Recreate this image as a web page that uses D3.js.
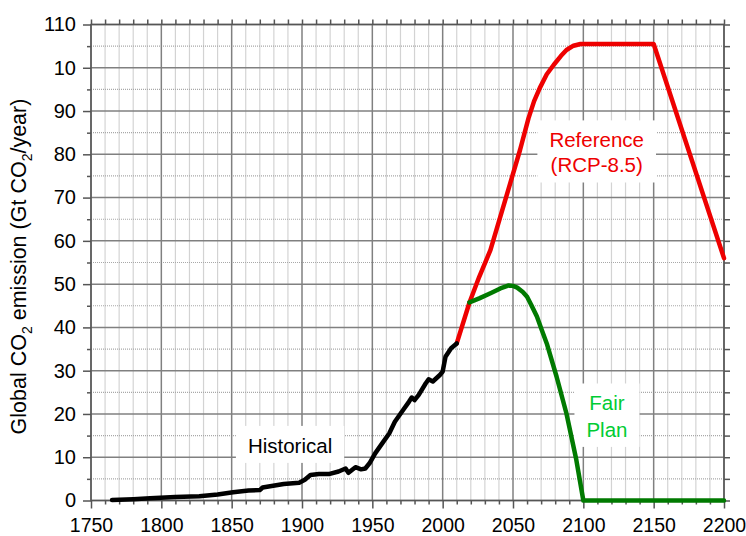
<!DOCTYPE html>
<html>
<head>
<meta charset="utf-8">
<script src="https://cdn.jsdelivr.net/npm/d3@7"></script>
<style>
  body { margin: 0; background: #fff; }
  text { font-family: "Liberation Sans", Arial, Helvetica, sans-serif; }
</style>
</head>
<body>
<div class="visualization"></div>
<script>
// historical emissions (Gt CO2/yr)
const histYears = [1765, 1780, 1792, 1810, 1827, 1840, 1851, 1862, 1870, 1872, 1887, 1898, 1902, 1906, 1912, 1919, 1926, 1931, 1933, 1938, 1942, 1945, 1948, 1952, 1957, 1962, 1966, 1971, 1976, 1978, 1980, 1983, 1988, 1990, 1993, 1998, 2000, 2002, 2006, 2010];
const histValues = [0.1, 0.3, 0.5, 0.8, 1.0, 1.4, 1.9, 2.3, 2.4, 3.0, 3.8, 4.1, 4.8, 5.9, 6.1, 6.1, 6.7, 7.4, 6.4, 7.7, 7.2, 7.4, 8.6, 10.9, 13.2, 15.5, 18.2, 20.5, 22.8, 23.8, 23.2, 24.4, 27.1, 28.0, 27.5, 29.0, 29.8, 33.2, 35.2, 36.3];

// reference scenario (RCP-8.5)
const refYears = [2010, 2019, 2026, 2034, 2041, 2048, 2055, 2061, 2065, 2069, 2074, 2079, 2084, 2088, 2093, 2098, 2150, 2200];
const refValues = [36.3, 45.7, 51.7, 57.9, 65.6, 73.3, 81.0, 88.3, 92.3, 95.3, 98.5, 100.7, 102.7, 104.1, 105.1, 105.5, 105.5, 56.0];

// fair plan
const fairYears = [2019, 2026, 2034, 2041, 2047, 2050, 2053, 2057, 2060, 2063, 2067, 2070, 2074, 2081, 2088, 2095, 2100, 2200];
const fairValues = [45.8, 46.7, 47.9, 49.0, 49.7, 49.6, 49.2, 48.2, 47.1, 45.2, 42.5, 39.8, 36.3, 28.6, 20.1, 9.4, 0, 0];

// axis ticks (the 100 label really reads "10" in the original)
const xTicks = [1750, 1800, 1850, 1900, 1950, 2000, 2050, 2100, 2150, 2200];
const yTicks = [0, 10, 20, 30, 40, 50, 60, 70, 80, 90, 100, 110];
const yTickLabels = ["0", "10", "20", "30", "40", "50", "60", "70", "80", "90", "10", "110"];

const width = 746, height = 536;
const margin = {top: 24.5, left: 91, right: 22, bottom: 35.5};

const svg = d3.select('.visualization').append('svg')
    .attr('width', width)
    .attr('height', height);

const x = d3.scaleLinear().domain([1750, 2200]).range([margin.left, width - margin.right]);
const y = d3.scaleLinear().domain([0, 110]).range([height - margin.bottom, margin.top]);

const minorX = d3.range(1750, 2201, 10).filter(d => d % 50 !== 0);
const minorY = d3.range(5, 110, 10);

// grid
const grid = svg.append('g').attr('class', 'grid');
grid.selectAll('.minor-x').data(minorX).enter().append('line')
    .attr('x1', d => x(d)).attr('x2', d => x(d))
    .attr('y1', y(0)).attr('y2', y(110))
    .style('stroke', '#a8a8a8').style('stroke-width', 1.2).style('stroke-dasharray', '1,1');
grid.selectAll('.minor-y').data(minorY).enter().append('line')
    .attr('x1', x(1750)).attr('x2', x(2200))
    .attr('y1', d => y(d)).attr('y2', d => y(d))
    .style('stroke', '#a8a8a8').style('stroke-width', 1.2).style('stroke-dasharray', '1,1');
grid.selectAll('.major-x').data(xTicks).enter().append('line')
    .attr('x1', d => x(d)).attr('x2', d => x(d))
    .attr('y1', y(0)).attr('y2', y(110))
    .style('stroke', '#808080').style('stroke-width', 1.5);
grid.selectAll('.major-y').data(yTicks).enter().append('line')
    .attr('x1', x(1750)).attr('x2', x(2200))
    .attr('y1', d => y(d)).attr('y2', d => y(d))
    .style('stroke', '#808080').style('stroke-width', 1.5);

// annotation boxes go under the lines
const notes = svg.append('g').attr('class', 'notes');

function note(lines, cx, baselines, color) {
    const g = notes.append('g');
    const texts = lines.map((t, i) => g.append('text')
        .attr('x', x(cx)).attr('y', y(baselines[i]))
        .attr('text-anchor', 'middle')
        .style('font-size', '20.5px')
        .style('fill', color)
        .text(t));
    let x0 = Infinity, y0 = Infinity, x1 = -Infinity, y1 = -Infinity;
    texts.forEach(t => {
        const b = t.node().getBBox();
        x0 = Math.min(x0, b.x); y0 = Math.min(y0, b.y);
        x1 = Math.max(x1, b.x + b.width); y1 = Math.max(y1, b.y + b.height);
    });
    g.insert('rect', 'text')
        .attr('x', x0 - 12).attr('y', y0 - 8)
        .attr('width', x1 - x0 + 24).attr('height', y1 - y0 + 14)
        .style('fill', '#fff');
}
note(['Historical'], 1891.5, [11.0], '#000');
note(['Reference', '(RCP-8.5)'], 2109.5, [81.6, 75.8], '#ee0000');
note(['Fair', 'Plan'], 2116.8, [20.8, 14.7], '#00cc33');

// axes
function styleAxis(size) {
    return g => {
        g.select('.domain').remove();
        g.selectAll('.tick line').style('stroke', '#555').style('stroke-width', 1.5);
        g.selectAll('.tick text').style('font-size', size).style('fill', '#000')
            .style('font-family', '"Liberation Sans", Arial, sans-serif');
    };
}

svg.append('g').attr('transform', `translate(0,${y(0)})`)
    .call(d3.axisBottom(x).tickValues(xTicks).tickFormat(d3.format('d')).tickSize(8).tickPadding(10))
    .call(styleAxis('19.5px'));
svg.append('g').attr('transform', `translate(0,${y(0)})`)
    .call(d3.axisBottom(x).tickValues(minorX).tickFormat('').tickSize(4))
    .call(styleAxis('19.5px'));
svg.append('g').attr('transform', `translate(${x(1750)},0)`)
    .call(d3.axisLeft(y).tickValues(yTicks).tickFormat((d, i) => yTickLabels[i]).tickSize(8).tickPadding(7))
    .call(styleAxis('20px'));
svg.append('g').attr('transform', `translate(${x(1750)},0)`)
    .call(d3.axisLeft(y).tickValues(minorY).tickFormat('').tickSize(4))
    .call(styleAxis('20px'));
svg.append('g').attr('transform', `translate(0,${y(110)})`)
    .call(d3.axisTop(x).tickValues(d3.range(1750, 2201, 10)).tickFormat('').tickSize(5))
    .call(styleAxis('20px'));
svg.append('g').attr('transform', `translate(${x(2200)},0)`)
    .call(d3.axisRight(y).tickValues(d3.range(0, 111, 5)).tickFormat('').tickSize(6))
    .call(styleAxis('20px'));

// frame
svg.append('rect')
    .attr('x', x(1750)).attr('y', y(110))
    .attr('width', x(2200) - x(1750)).attr('height', y(0) - y(110))
    .style('fill', 'none').style('stroke', '#555').style('stroke-width', 1.5);

// y title with subscripts
const title = svg.append('text')
    .attr('transform', `translate(26,${(y(0) + y(110)) / 2 + 4}) rotate(-90)`)
    .attr('text-anchor', 'middle')
    .style('font-size', '21.5px');
title.append('tspan').text('Global CO');
title.append('tspan').text('2').style('font-size', '14px').attr('dy', 6);
title.append('tspan').text(' emission (Gt CO').attr('dy', -6);
title.append('tspan').text('2').style('font-size', '14px').attr('dy', 6);
title.append('tspan').text('/year)').attr('dy', -6);

// series
const line = d3.line().x(d => x(d[0])).y(d => y(d[1]));
const series = [
    {years: refYears, values: refValues, color: '#ee0000'},
    {years: fairYears, values: fairValues, color: '#007a00'},
    {years: histYears, values: histValues, color: '#000'}
];
svg.append('g').attr('class', 'lines')
    .selectAll('path')
    .data(series)
    .enter().append('path')
    .attr('d', s => line(d3.zip(s.years, s.values)))
    .style('fill', 'none')
    .style('stroke', s => s.color)
    .style('stroke-width', 4.5)
    .style('stroke-linejoin', 'round')
    .style('stroke-linecap', 'round');
</script>
</body>
</html>
